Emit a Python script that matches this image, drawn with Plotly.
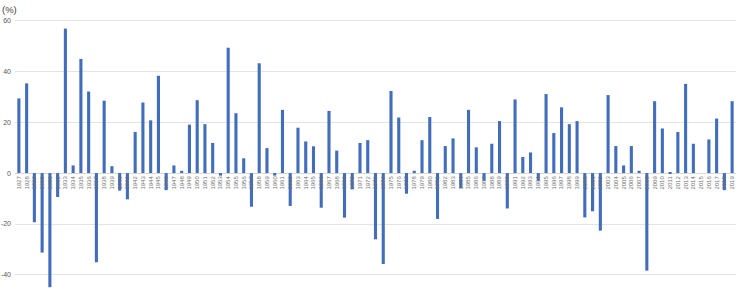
import plotly.graph_objects as go

years = [str(y) for y in range(1927, 2020)]
returns = [
    29.3, 35.2, -19.3, -31.2, -44.8, -9.4, 56.7, 3.0, 44.8, 32.0,      # 1927-1936
    -35.0, 28.4, 2.7, -6.9, -10.3, 16.1, 27.7, 20.7, 38.2, -6.7,      # 1937-1946
    3.0, 0.9, 19.0, 28.6, 19.2, 11.8, -1.0, 49.2, 23.5, 5.8,          # 1947-1956
    -13.2, 43.1, 9.8, -1.0, 24.8, -12.9, 17.8, 12.4, 10.5, -13.6,     # 1957-1966
    24.4, 8.8, -17.5, -6.4, 11.8, 12.9, -26.0, -35.7, 32.2, 21.8,     # 1967-1976
    -8.1, 0.9, 12.9, 22.0, -18.0, 10.6, 13.6, -6.0, 24.8, 10.1,       # 1977-1986
    -3.0, 11.5, 20.4, -13.9, 28.9, 6.3, 8.1, -3.0, 31.0, 15.7,        # 1987-1996
    25.8, 19.2, 20.4, -17.4, -15.0, -22.6, 30.6, 10.6, 3.0, 10.6,     # 1997-2006
    0.9, -38.3, 28.2, 17.5, 0.3, 16.1, 35.0, 11.5, 0.0, 13.2,         # 2007-2016
    21.4, -6.7, 28.2,                                                 # 2017-2019
]
y_ticks = [-40, -20, 0, 20, 40, 60]
unit_label = "(%)"

W, H = 740, 296
L, R, T, B = 15, 4, 10, 0
y_min, y_max = -48.25, 64.0
zero_frac = (0 - y_min) / (y_max - y_min)

fig = go.Figure(
    go.Bar(
        x=years,
        y=returns,
        marker=dict(color="#416DBA", line=dict(width=0)),
    )
)

fig.update_layout(
    width=W,
    height=H,
    margin=dict(l=L, r=R, t=T, b=B, pad=0),
    plot_bgcolor="white",
    paper_bgcolor="white",
    bargap=0.6,
    showlegend=False,
    font=dict(family="Liberation Sans, Arial, sans-serif", color="#595959"),
    xaxis=dict(
        type="category",
        anchor="free",
        position=zero_frac,
        showline=False,
        showgrid=False,
        zeroline=False,
        ticks="",
        tickangle=-90,
        tickfont=dict(size=6, color="#6f6f6f"),
        ticklabelstandoff=1,
    ),
    yaxis=dict(
        range=[y_min, y_max],
        tickvals=y_ticks,
        ticktext=[str(v) for v in y_ticks],
        showgrid=True,
        gridcolor="#E3E3E3",
        gridwidth=1,
        zeroline=True,
        zerolinecolor="#D9D9D9",
        zerolinewidth=1,
        showline=False,
        ticks="",
        tickfont=dict(size=7, color="#595959"),
        ticklabelstandoff=3,
    ),
    annotations=[
        dict(
            text=unit_label,
            xref="paper",
            yref="paper",
            x=0,
            y=1,
            xshift=-L,
            yshift=T - 2,
            xanchor="left",
            yanchor="top",
            showarrow=False,
            font=dict(size=9.5, color="#404040"),
        )
    ],
)

fig.write_html("out.html")
